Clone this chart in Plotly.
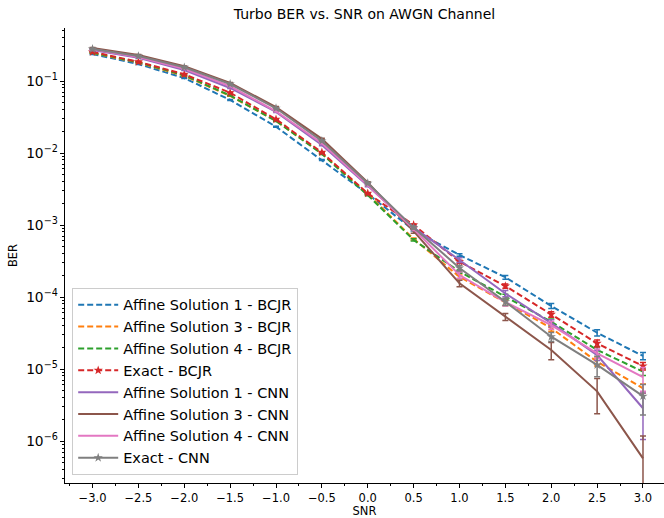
import plotly.graph_objects as go

snr = [-3.0, -2.5, -2.0, -1.5, -1.0, -0.5, 0.0, 0.5, 1.0, 1.5, 2.0, 2.5, 3.0]
x_ticks = [-3.0, -2.5, -2.0, -1.5, -1.0, -0.5, 0.0, 0.5, 1.0, 1.5, 2.0, 2.5, 3.0]

aff1_bcjr = [0.237, 0.172, 0.110, 0.0545, 0.0232, 0.0080, 0.0027, 0.00085, 3.83e-4, 1.88e-4, 7.5e-5, 3.19e-5, 1.52e-5]
aff3_bcjr = [0.245, 0.180, 0.118, 0.062, 0.028, 0.0099, 0.0027, 0.00064, 1.91e-4, 8.3e-5, 3.7e-5, 1.26e-5, 5.4e-6]
aff4_bcjr = [0.247, 0.182, 0.120, 0.063, 0.0278, 0.0097, 0.0026, 0.00062, 2.25e-4, 1.01e-4, 4.54e-5, 1.84e-5, 9.2e-6]
exact_bcjr = [0.253, 0.185, 0.124, 0.0688, 0.0294, 0.0102, 0.00275, 0.0010, 3.09e-4, 1.42e-4, 5.75e-5, 2.27e-5, 1.10e-5]
aff1_cnn = [0.270, 0.210, 0.142, 0.080, 0.0372, 0.0129, 0.0035, 0.00092, 3.27e-4, 1.12e-4, 4.35e-5, 1.56e-5, 2.85e-6]
aff3_cnn = [0.287, 0.230, 0.160, 0.094, 0.0435, 0.0157, 0.0039, 0.00082, 1.55e-4, 5.3e-5, 1.84e-5, 4.9e-6, 5.75e-7]
aff4_cnn = [0.275, 0.215, 0.148, 0.085, 0.038, 0.0137, 0.0036, 0.00088, 2.02e-4, 8.5e-5, 4.08e-5, 1.65e-5, 7.7e-6]
exact_cnn = [0.278, 0.222, 0.155, 0.0908, 0.0418, 0.0147, 0.0038, 0.00092, 2.53e-4, 8.6e-5, 2.81e-5, 1.14e-5, 4.2e-6]

err_aff1_bcjr = [0.003, 0.002, 0.0015, 0.0008, 0.0004, 0.00015, 6e-5, 2.5e-5, 1.5e-5, 1.1e-5, 6e-6, 3.2e-6, 1.8e-6]
err_aff3_bcjr = [0.003, 0.002, 0.0015, 0.0008, 0.0004, 0.00017, 6e-5, 2.2e-5, 1.1e-5, 7e-6, 3.5e-6, 1.6e-6, 8e-7]
err_aff4_bcjr = [0.003, 0.002, 0.0015, 0.0008, 0.0004, 0.00017, 6e-5, 2.2e-5, 1.2e-5, 8e-6, 4e-6, 2e-6, 1.1e-6]
err_exact_bcjr = [0.003, 0.002, 0.0015, 0.0009, 0.0005, 0.00018, 6e-5, 3e-5, 1.5e-5, 1e-5, 5e-6, 2.5e-6, 1.3e-6]
err_aff1_cnn = [0.004, 0.003, 0.002, 0.0012, 0.0007, 0.0003, 0.0001, 4e-5, 2.5e-5, 1.1e-5, 5e-6, 2.5e-6, 1.8e-6]
err_aff3_cnn = [0.004, 0.003, 0.002, 0.0012, 0.0007, 0.0003, 0.0001, 5e-5, 1.6e-5, 6e-6, 5e-6, 2.5e-6, 6e-7]
err_aff4_cnn = [0.004, 0.003, 0.002, 0.0012, 0.0007, 0.0003, 0.0001, 4e-5, 2e-5, 1e-5, 5e-6, 2.5e-6, 2.8e-6]
err_exact_cnn = [0.004, 0.003, 0.002, 0.0012, 0.0007, 0.0003, 0.0001, 4e-5, 2.2e-5, 1e-5, 4e-6, 3.6e-6, 1.9e-6]

series = [
    ("Affine Solution 1 - BCJR", aff1_bcjr, err_aff1_bcjr, "#1f77b4", "dash", None),
    ("Affine Solution 3 - BCJR", aff3_bcjr, err_aff3_bcjr, "#ff7f0e", "dash", None),
    ("Affine Solution 4 - BCJR", aff4_bcjr, err_aff4_bcjr, "#2ca02c", "dash", None),
    ("Exact - BCJR", exact_bcjr, err_exact_bcjr, "#d62728", "dash", "star"),
    ("Affine Solution 1 - CNN", aff1_cnn, err_aff1_cnn, "#9467bd", "solid", None),
    ("Affine Solution 3 - CNN", aff3_cnn, err_aff3_cnn, "#8c564b", "solid", None),
    ("Affine Solution 4 - CNN", aff4_cnn, err_aff4_cnn, "#e377c2", "solid", None),
    ("Exact - CNN", exact_cnn, err_exact_cnn, "#7f7f7f", "solid", "star"),
]

fig = go.Figure()
for name, vals, errs, color, dash, marker in series:
    fig.add_trace(go.Scatter(
        x=snr, y=vals, name=name,
        mode="lines+markers" if marker else "lines",
        line=dict(color=color, width=2, dash="6px,3px" if dash == "dash" else "solid"),
        marker=dict(symbol=marker or "circle", size=7, color=color) if marker else None,
        error_y=dict(type="data", array=errs, visible=True, color=color, thickness=1.5, width=3),
    ))

font_family = "DejaVu Sans"
fig.update_layout(
    width=664, height=518,
    margin=dict(l=65, r=0, t=28, b=35),
    paper_bgcolor="white", plot_bgcolor="white",
    font=dict(family=font_family, size=11, color="black"),
    title=dict(text="Turbo BER vs. SNR on AWGN Channel", x=0.5, xref="paper", xanchor="center",
               y=1 - 14 / 518, yref="container", yanchor="middle",
               font=dict(family=font_family, size=14, color="black")),
    showlegend=True,
    legend=dict(x=0.012, y=0.018, xanchor="left", yanchor="bottom",
                bgcolor="rgba(255,255,255,0.8)", bordercolor="#cccccc", borderwidth=1,
                font=dict(family=font_family, size=14.5, color="black"),
                itemwidth=40),
    xaxis=dict(range=[-3.3, 3.229], tickvals=x_ticks, tickformat=".1f",
               showgrid=False, zeroline=False, showline=True, linecolor="black", linewidth=1,
               ticks="outside", ticklen=4, tickcolor="black",
               minor=dict(dtick=0.25, ticks="outside", ticklen=2, tickcolor="black"),
               title=dict(text="SNR", standoff=1, font=dict(size=11.5)),
               tickfont=dict(size=11.5)),
    yaxis=dict(type="log", range=[-6.583, -0.264], dtick=1, exponentformat="power",
               showgrid=False, zeroline=False, showline=True, linecolor="black", linewidth=1,
               ticks="outside", ticklen=4, tickcolor="black",
               minor=dict(ticks="outside", ticklen=2, tickcolor="black", dtick="D1"),
               title=dict(text="BER", standoff=6, font=dict(size=11.5)),
               tickfont=dict(size=11)),
)

fig.write_html("out.html")
